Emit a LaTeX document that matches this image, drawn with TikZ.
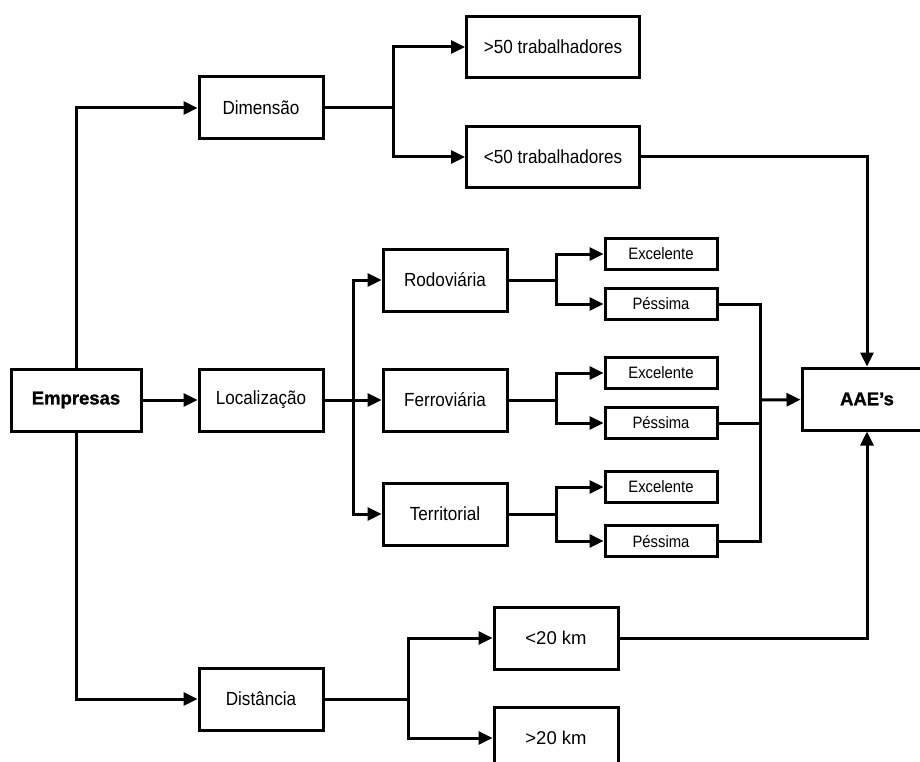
\documentclass[tikz,border=0pt]{standalone}
\usepackage{fontspec}
\newfontfamily\condfont{Liberation Sans}[FakeStretch=0.9]
\newfontfamily\plainfont{Liberation Sans}
\newfontfamily\heavyfont{Liberation Sans Bold}[FakeBold=1.2]
\usetikzlibrary{arrows.meta}

\begin{document}
\begin{tikzpicture}[x=1pt,y=-1pt,>={Triangle[length=14pt,width=13pt]},line width=3pt,
  main node/.style={draw,rectangle,inner sep=0pt,minimum width=124pt,minimum height=62pt,
    font=\condfont\fontsize{19}{22}\selectfont},
  wide node/.style={main node,minimum width=173pt,minimum height=61pt},
  small node/.style={main node,minimum width=112pt,minimum height=31pt,
    font=\condfont\fontsize{16.5}{19}\selectfont},
  key node/.style={main node,minimum width=130pt,font=\heavyfont\fontsize{18.5}{22}\selectfont},
  km node/.style={main node,font=\plainfont\fontsize{18.5}{22}\selectfont}]

  \clip (0,0) rectangle (920,762);

  \node[key node] (emp) at (76,400) {Empresas};
  \node[key node] (aae) at (867,399) {AAE’s};

  \node[main node] (dim) at (261,108) {Dimensão};
  \node[main node] (loc) at (261,400) {Localização};
  \node[main node] (dis) at (261,699) {Distância};

  \node[wide node] (g50) at (553,47) {>50 trabalhadores};
  \node[wide node] (l50) at (553,157) {<50 trabalhadores};

  \node[main node] (rod) at (445,280) {Rodoviária};
  \node[main node] (fer) at (445,400) {Ferroviária};
  \node[main node] (ter) at (445,514) {Territorial};

  \node[small node] (exc1) at (661,254) {Excelente};
  \node[small node] (pes1) at (661,304) {Péssima};
  \node[small node] (exc2) at (661,373) {Excelente};
  \node[small node] (pes2) at (661,423) {Péssima};
  \node[small node] (exc3) at (661,487) {Excelente};
  \node[small node] (pes3) at (661,541) {Péssima};

  \node[km node] (k20a) at (556,638) {<20 km};
  \node[km node] (k20b) at (556,738) {>20 km};

  \coordinate (bdim) at (393,108);
  \coordinate (bloc) at (353,400);
  \coordinate (brod) at (556,280);
  \coordinate (bfer) at (556,400);
  \coordinate (bter) at (556,514);
  \coordinate (col) at (760,400);
  \coordinate (bdis) at (408,699);

  \draw[->] (emp) |- (dim);
  \draw[->] (emp) -- (loc);
  \draw[->] (emp) |- (dis);

  \draw (dim) -- (bdim);
  \draw[->] (bdim) |- (g50);
  \draw[->] (bdim) |- (l50);
  \draw[->] (l50) -| (aae);

  \draw (loc) -- (bloc);
  \draw[->] (bloc) |- (rod);
  \draw[->] (bloc) -- (fer);
  \draw[->] (bloc) |- (ter);

  \draw (rod) -- (brod);
  \draw[->] (brod) |- (exc1);
  \draw[->] (brod) |- (pes1);
  \draw (fer) -- (bfer);
  \draw[->] (bfer) |- (exc2);
  \draw[->] (bfer) |- (pes2);
  \draw (ter) -- (bter);
  \draw[->] (bter) |- (exc3);
  \draw[->] (bter) |- (pes3);

  \draw (pes1) -| (col);
  \draw (pes2) -| (col);
  \draw (pes3) -| (col);
  \draw[->] (col) -- (aae);

  \draw (dis) -- (bdis);
  \draw[->] (bdis) |- (k20a);
  \draw[->] (bdis) |- (k20b);
  \draw[->] (k20a) -| (aae);
\end{tikzpicture}
\end{document}
